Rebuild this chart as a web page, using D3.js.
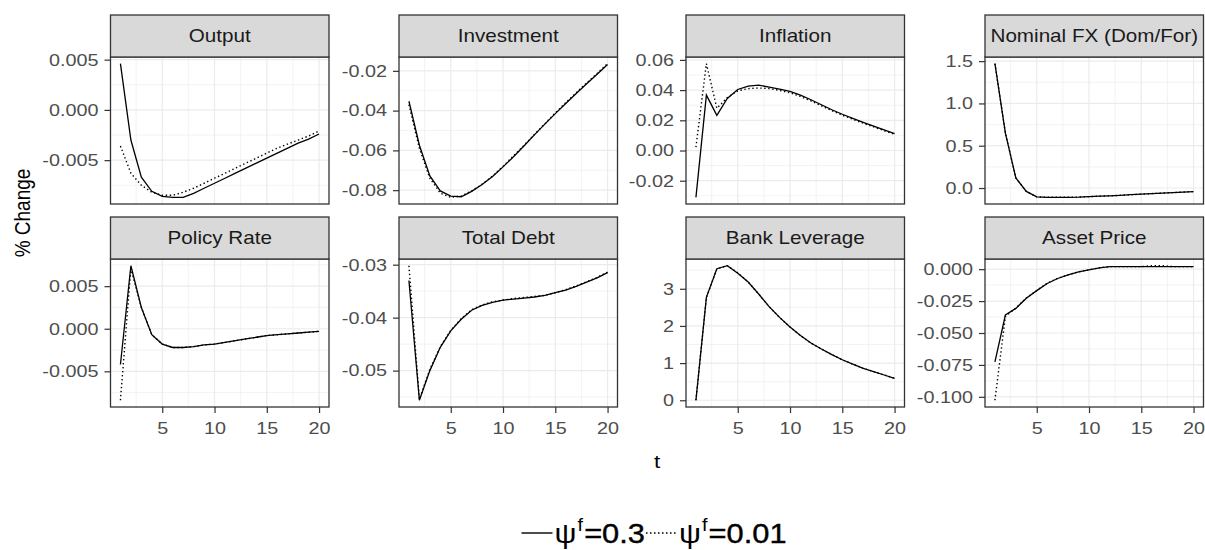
<!DOCTYPE html>
<html><head><meta charset="utf-8">
<script src="https://cdn.jsdelivr.net/npm/d3@7"></script>
<style>body{margin:0;background:#fff}</style>
</head><body><svg id="c" width="1205" height="550"></svg>
<script>
// ---------- data ----------
const periods = [1,2,3,4,5,6,7,8,9,10,11,12,13,14,15,16,17,18,19,20];
const panelNames = ["Output","Investment","Inflation","Nominal FX (Dom/For)","Policy Rate","Total Debt","Bank Leverage","Asset Price"];
const xTickLabels = ["5","10","15","20"];
const legendLabels = ["0.3","0.01"];

const outputSolid  = [0.0046,-0.0030,-0.0067,-0.0081,-0.0086,-0.0087,-0.0087,-0.0083,-0.0078,-0.0073,-0.0068,-0.0063,-0.0058,-0.0053,-0.0048,-0.0043,-0.0038,-0.0033,-0.0029,-0.0024];
const outputDotted = [-0.0036,-0.0063,-0.0075,-0.0082,-0.0085,-0.0085,-0.0082,-0.0078,-0.0073,-0.0068,-0.0063,-0.0058,-0.0053,-0.0048,-0.0043,-0.0038,-0.0034,-0.0030,-0.0026,-0.0021];
const outputTicks = ["0.005","0.000","-0.005"];

const investmentSolid  = [-0.0353,-0.0574,-0.0728,-0.0804,-0.0830,-0.0833,-0.0806,-0.0772,-0.0731,-0.0683,-0.0632,-0.0578,-0.0522,-0.0468,-0.0415,-0.0364,-0.0314,-0.0265,-0.0217,-0.0168];
const investmentDotted = [-0.0370,-0.0590,-0.0740,-0.0815,-0.0836,-0.0830,-0.0804,-0.0770,-0.0729,-0.0680,-0.0628,-0.0575,-0.0520,-0.0466,-0.0412,-0.0360,-0.0310,-0.0261,-0.0213,-0.0164];
const investmentTicks = ["-0.02","-0.04","-0.06","-0.08"];

const inflationSolid  = [-0.0310,0.0367,0.0233,0.0345,0.0404,0.0427,0.0433,0.0420,0.0406,0.0392,0.0367,0.0336,0.0303,0.0270,0.0240,0.0213,0.0187,0.0161,0.0136,0.0112];
const inflationDotted = [0.0022,0.0575,0.0280,0.0350,0.0395,0.0410,0.0414,0.0410,0.0398,0.0382,0.0358,0.0328,0.0296,0.0264,0.0234,0.0207,0.0181,0.0156,0.0131,0.0107];
const inflationTicks = ["0.06","0.04","0.02","0.00","-0.02"];

const fxSolid  = [1.47,0.65,0.12,-0.04,-0.105,-0.11,-0.11,-0.11,-0.108,-0.102,-0.097,-0.092,-0.086,-0.079,-0.072,-0.066,-0.060,-0.054,-0.048,-0.042];
const fxDotted = [1.47,0.65,0.12,-0.04,-0.105,-0.11,-0.11,-0.11,-0.108,-0.102,-0.097,-0.092,-0.086,-0.079,-0.072,-0.066,-0.060,-0.054,-0.048,-0.042];
const fxTicks = ["1.5","1.0","0.5","0.0"];

const policySolid  = [-0.0042,0.0074,0.0025,-0.0007,-0.0018,-0.0022,-0.0022,-0.0021,-0.0019,-0.0018,-0.0016,-0.0014,-0.0012,-0.0010,-0.0008,-0.0007,-0.0006,-0.0005,-0.0004,-0.0003];
const policyDotted = [-0.0084,0.0071,0.0025,-0.0007,-0.0018,-0.0022,-0.0022,-0.0021,-0.0019,-0.0018,-0.0016,-0.0014,-0.0012,-0.0010,-0.0008,-0.0007,-0.0006,-0.0005,-0.0004,-0.0003];
const policyTicks = ["0.005","0.000","-0.005"];

const debtSolid  = [-0.0330,-0.0556,-0.0500,-0.0456,-0.0425,-0.0403,-0.0386,-0.0377,-0.0371,-0.0367,-0.0365,-0.0363,-0.0361,-0.0358,-0.0353,-0.0348,-0.0341,-0.0333,-0.0325,-0.0315];
const debtDotted = [-0.0302,-0.0554,-0.0498,-0.0455,-0.0424,-0.0402,-0.0385,-0.0376,-0.0370,-0.0367,-0.0364,-0.0362,-0.0360,-0.0358,-0.0353,-0.0347,-0.0340,-0.0332,-0.0324,-0.0314];
const debtTicks = ["-0.03","-0.04","-0.05"];

const leverageSolid  = [0.00,2.77,3.54,3.62,3.42,3.18,2.86,2.52,2.23,1.97,1.74,1.54,1.38,1.23,1.09,0.97,0.86,0.77,0.68,0.59];
const leverageDotted = [0.00,2.76,3.53,3.62,3.43,3.18,2.86,2.52,2.23,1.97,1.74,1.54,1.38,1.23,1.09,0.97,0.86,0.77,0.68,0.59];
const leverageTicks = ["3","2","1","0"];

const assetSolid  = [-0.0726,-0.0359,-0.0307,-0.0228,-0.0168,-0.0112,-0.0073,-0.0045,-0.0022,-0.0005,0.0010,0.0020,0.0020,0.0020,0.0020,0.0020,0.0020,0.0020,0.0020,0.0020];
const assetDotted = [-0.1027,-0.0370,-0.0305,-0.0226,-0.0167,-0.0110,-0.0072,-0.0044,-0.0021,-0.0004,0.0011,0.0020,0.0020,0.0020,0.0020,0.0027,0.0027,0.0020,0.0020,0.0020];
const assetTicks = ["0.000","-0.025","-0.050","-0.075","-0.100"];

// ---------- layout ----------
const FONT = '"Liberation Sans", Arial, Helvetica, sans-serif';
const SX = 1.18;
const colX = [110.5, 399, 686, 985], panelW = 218.5;
const rowStrip = [15, 217], rowTop = [57, 259], rowBottom = [204, 407];
const BORDER = "#333333", GRID = "#EBEBEB";

const svg = d3.select("#c");
svg.append("rect").attr("width",1205).attr("height",550).attr("fill","#fff");

const panels = [
  {solid: outputSolid, dotted: outputDotted, ticks: outputTicks},
  {solid: investmentSolid, dotted: investmentDotted, ticks: investmentTicks},
  {solid: inflationSolid, dotted: inflationDotted, ticks: inflationTicks},
  {solid: fxSolid, dotted: fxDotted, ticks: fxTicks},
  {solid: policySolid, dotted: policyDotted, ticks: policyTicks},
  {solid: debtSolid, dotted: debtDotted, ticks: debtTicks},
  {solid: leverageSolid, dotted: leverageDotted, ticks: leverageTicks},
  {solid: assetSolid, dotted: assetDotted, ticks: assetTicks}
];

function minors(majors, dom){
  const s = majors.slice().sort((a,b)=>a-b);
  const step = s[1]-s[0];
  const out = [];
  for (let k = 0; k <= s.length; k++) {
    const v = s[0] - step/2 + k*step;
    if (v >= dom[0] && v <= dom[1]) out.push(v);
  }
  return out;
}

panels.forEach((p, i) => {
  const col = i % 4, row = Math.floor(i / 4);
  const x0 = colX[col], x1 = x0 + panelW;
  const yT = rowTop[row], yB = rowBottom[row], sT = rowStrip[row];

  const xe = d3.extent(periods), xp = (xe[1]-xe[0])*0.05;
  const x = d3.scaleLinear().domain([xe[0]-xp, xe[1]+xp]).range([x0, x1]);
  const ye = d3.extent(p.solid.concat(p.dotted)), yp = (ye[1]-ye[0])*0.05;
  const y = d3.scaleLinear().domain([ye[0]-yp, ye[1]+yp]).range([yB, yT]);

  const yMaj = p.ticks.map(Number);
  const xMaj = xTickLabels.map(Number);
  const g = svg.append("g");

  g.append("rect").attr("x",x0).attr("y",yT).attr("width",panelW).attr("height",yB-yT).attr("fill","#fff");

  minors(yMaj, y.domain()).forEach(v => g.append("line").attr("x1",x0).attr("x2",x1).attr("y1",y(v)).attr("y2",y(v)).attr("stroke",GRID).attr("stroke-width",0.6));
  minors(xMaj, x.domain()).forEach(v => g.append("line").attr("y1",yT).attr("y2",yB).attr("x1",x(v)).attr("x2",x(v)).attr("stroke",GRID).attr("stroke-width",0.6));
  yMaj.forEach(v => g.append("line").attr("x1",x0).attr("x2",x1).attr("y1",y(v)).attr("y2",y(v)).attr("stroke",GRID).attr("stroke-width",1.2));
  xMaj.forEach(v => g.append("line").attr("y1",yT).attr("y2",yB).attr("x1",x(v)).attr("x2",x(v)).attr("stroke",GRID).attr("stroke-width",1.2));

  const line = d3.line().x((d,j) => x(periods[j])).y(d => y(d));
  g.append("path").attr("d", line(p.solid)).attr("fill","none").attr("stroke","#000").attr("stroke-width",1.3);
  g.append("path").attr("d", line(p.dotted)).attr("fill","none").attr("stroke","#000").attr("stroke-width",1.4).attr("stroke-dasharray","1.4,2.6");

  g.append("rect").attr("x",x0).attr("y",yT).attr("width",panelW).attr("height",yB-yT).attr("fill","none").attr("stroke",BORDER).attr("stroke-width",1.3);

  g.append("rect").attr("x",x0).attr("y",sT).attr("width",panelW).attr("height",yT-sT).attr("fill","#D9D9D9").attr("stroke",BORDER).attr("stroke-width",1.3);
  g.append("text").text(panelNames[i])
    .attr("transform",`translate(${(x0+x1)/2},${(sT+yT)/2}) scale(${SX},1)`)
    .attr("dy","0.36em").attr("text-anchor","middle")
    .attr("font-family",FONT).attr("font-size",17.5).attr("fill","#1A1A1A");

  const ga = svg.append("g").attr("transform",`translate(${x0},0)`)
    .call(d3.axisLeft(y).tickValues(yMaj).tickFormat((d,j)=>p.ticks[j]).tickSize(6).tickPadding(0));
  ga.attr("font-family",FONT).attr("font-size",16.8);
  ga.select(".domain").remove();
  ga.selectAll(".tick line").attr("stroke",BORDER).attr("stroke-width",1.2);
  ga.selectAll(".tick text").attr("x",null).attr("transform",`translate(-12,0) scale(${SX},1)`).attr("fill","#4D4D4D");

  if (row === 1) {
    const gx = svg.append("g").attr("transform",`translate(0,${yB})`)
      .call(d3.axisBottom(x).tickValues(xMaj).tickFormat((d,j)=>xTickLabels[j]).tickSize(6).tickPadding(0));
    gx.attr("font-family",FONT).attr("font-size",16.8);
    gx.select(".domain").remove();
    gx.selectAll(".tick line").attr("stroke",BORDER).attr("stroke-width",1.2);
    gx.selectAll(".tick text").attr("y",null).attr("transform",`translate(0,15) scale(${SX},1)`).attr("fill","#4D4D4D");
  }
});

svg.append("text").text("% Change")
  .attr("transform",`translate(30,213) scale(${SX},1) rotate(-90)`)
  .attr("text-anchor","middle").attr("font-family",FONT).attr("font-size",19).attr("fill","#000");
svg.append("text").text("t")
  .attr("transform",`translate(657,468) scale(${SX},1)`)
  .attr("text-anchor","middle").attr("font-family",FONT).attr("font-size",19).attr("fill","#000");

// legend
const lg = svg.append("g");
const dashes = [null, "1.6,2.4"];
let cx = 0;
const keyW = 31, baseY = 543;
legendLabels.forEach((lab, k) => {
  const ln = lg.append("line").attr("x1",cx).attr("x2",cx+keyW).attr("y1",baseY-10).attr("y2",baseY-10)
    .attr("stroke","#000").attr("stroke-width",1.4);
  if (dashes[k]) ln.attr("stroke-dasharray",dashes[k]);
  cx += keyW + 2;
  const tx = lg.append("text").attr("x",0).attr("y",0)
    .attr("transform",`translate(${cx},${baseY}) scale(1.1,1)`)
    .attr("font-family",FONT).attr("font-size",28).attr("fill","#000");
  tx.append("tspan").text("\u03C8");
  tx.append("tspan").text("f").attr("font-size",18).attr("dy",-12).attr("dx",1);
  tx.append("tspan").text("=" + lab).attr("dy",12).attr("dx",1).attr("stroke","#000").attr("stroke-width",0.4);
  const w = tx.node().getBBox().width * 1.1;
  cx += w + 1;
});
lg.attr("transform",`translate(${654.5 - cx/2},0)`);
</script>
</body></html>
